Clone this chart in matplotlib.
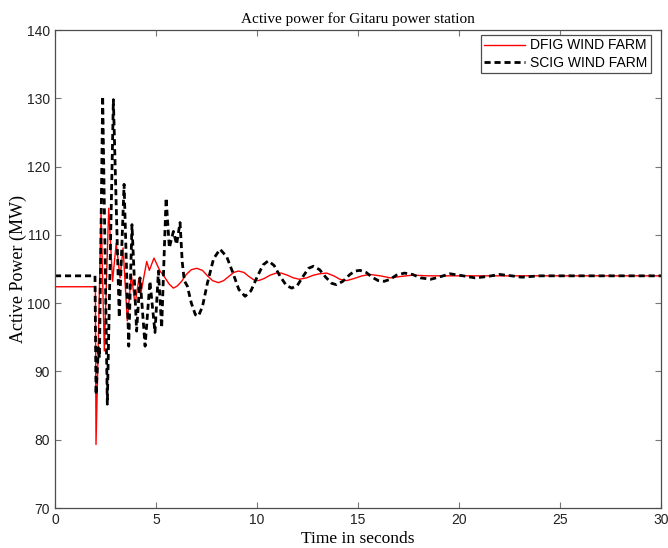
import matplotlib
matplotlib.use("Agg")
import matplotlib.pyplot as plt

# DFIG wind farm active power (MW)
dfig_t = [0, 2.0, 2.03, 2.15, 2.28, 2.44, 2.66, 2.85, 3.03, 3.22, 3.37, 3.58, 3.78,
          3.96, 4.16, 4.24, 4.54, 4.67, 4.9, 5.2, 5.45, 5.65, 5.86, 6.05, 6.27,
          6.5, 6.75, 7.01, 7.3, 7.55, 7.8, 8.09, 8.35, 8.6, 8.85, 9.08, 9.35, 9.6,
          9.85, 10.07, 10.35, 10.65, 10.95, 11.2, 11.5, 11.8, 12.1, 12.45, 12.8,
          13.1, 13.45, 13.8, 14.1, 14.44, 14.8, 15.2, 15.6, 16.1, 16.6, 17.1, 17.7,
          18.5, 30]
dfig_p = [102.4, 102.4, 79.3, 95.0, 113.5, 93.0, 113.9, 103.2, 108.8, 103.7, 108.1, 97.4, 104.2,
          99.8, 103.7, 101.3, 106.1, 104.8, 106.6, 104.7, 103.7, 102.8, 102.2, 102.5, 103.2,
          104.2, 104.9, 105.1, 104.8, 104.0, 103.3, 103.0, 103.3, 103.9, 104.5, 104.7, 104.5, 103.9,
          103.4, 103.3, 103.6, 104.1, 104.4, 104.4, 104.1, 103.7, 103.5, 103.7, 104.1,
          104.3, 104.4, 104.0, 103.5, 103.3, 103.6, 104.0, 104.2, 104.0, 103.7, 103.9, 104.1,
          104.0, 104.0]

# SCIG wind farm active power (MW)
scig_t = [0, 1.98, 2.03, 2.15, 2.2, 2.36, 2.59, 2.89, 3.18, 3.42, 3.65, 3.81, 4.04,
          4.21, 4.46, 4.7, 4.95, 5.12, 5.28, 5.5, 5.66, 5.86, 6.02, 6.19, 6.3, 6.4,
          6.55, 6.75, 6.95, 7.1, 7.3, 7.55, 7.85, 8.17, 8.5, 8.8, 9.1, 9.41, 9.7,
          10.0, 10.3, 10.56, 10.85, 11.15, 11.45, 11.72, 12.0, 12.3, 12.55, 12.79,
          13.1, 13.4, 13.7, 13.94, 14.25, 14.6, 14.85, 15.1, 15.4, 15.7, 16.0, 16.3,
          16.6, 16.9, 17.3, 17.7, 18.1, 18.6, 19.0, 19.55, 20.2, 20.8, 21.4, 22.0,
          22.6, 23.1, 24.0, 30]
scig_p = [104.0, 104.0, 86.6, 93.5, 92.0, 130.3, 85.2, 129.8, 97.9, 117.4, 93.7, 111.5, 95.9,
          103.7, 93.7, 103.2, 95.7, 104.7, 96.4, 115.4, 108.1, 110.5, 108.6, 111.8, 106.0, 103.3,
          102.5, 100.0, 98.3, 98.1, 99.5, 103.0, 106.5, 107.9, 106.8, 104.5, 102.0, 101.0, 101.8,
          103.8, 105.6, 106.2, 105.5, 103.9, 102.6, 102.2, 102.6, 104.0, 105.1, 105.4,
          104.9, 103.8, 102.9, 102.7, 103.2, 104.2, 104.7, 104.8, 104.5, 103.8, 103.3, 103.2,
          103.5, 104.1, 104.4, 104.2, 103.7, 103.5, 103.8, 104.3, 104.0, 103.7, 103.9, 104.2,
          104.0, 103.8, 104.0, 104.0]

xticks = [0, 5, 10, 15, 20, 25, 30]
yticks = [70, 80, 90, 100, 110, 120, 130, 140]

fig = plt.figure(figsize=(6.68, 5.48), dpi=100)
ax = fig.add_axes([55 / 668, 40 / 548, 606 / 668, 478 / 548])

ax.plot(dfig_t, dfig_p, color='red', linewidth=1.0, label='DFIG WIND FARM')
ax.plot(scig_t, scig_p, color='black', linewidth=2.0, linestyle=(0, (2.2, 1.4)),
        label='SCIG WIND FARM')

ax.set_xlim(0, 30)
ax.set_ylim(70, 140)
ax.set_xticks(xticks)
ax.set_yticks(yticks)
for sp in ax.spines.values():
    sp.set_color('#4d4d4d')
    sp.set_linewidth(0.9)
ax.tick_params(direction='in', top=True, right=True, labelsize=10, length=4,
               color='#777777', labelcolor='#222222')
for lab in ax.get_xticklabels() + ax.get_yticklabels():
    lab.set_fontfamily('Liberation Sans')

ax.set_title('Active power for Gitaru power station', fontfamily='Liberation Serif',
             fontsize=11, pad=5)
ax.set_xlabel('Time in seconds', fontfamily='Liberation Serif', fontsize=12.5, labelpad=3)
ax.set_ylabel('Active Power (MW)', fontfamily='Liberation Serif', fontsize=13, labelpad=0)

leg = ax.legend(loc='upper right', bbox_to_anchor=(0.9835, 0.9895),
                prop={'family': 'Liberation Sans', 'size': 10},
                fancybox=False, edgecolor='#4d4d4d', framealpha=1, borderpad=0.25,
                labelspacing=0.25, handlelength=2.9, handletextpad=0.4,
                borderaxespad=0)
leg.get_frame().set_linewidth(0.9)

fig.savefig('out.png', dpi=100)
